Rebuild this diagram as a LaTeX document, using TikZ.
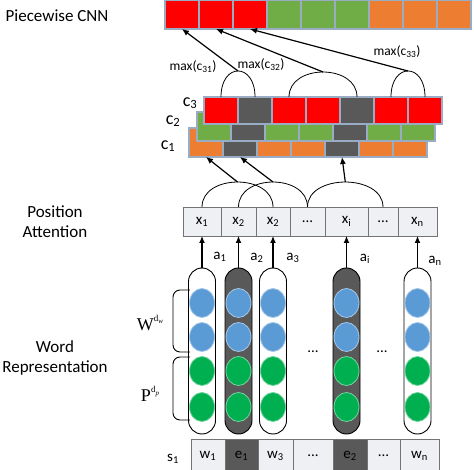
\documentclass[tikz,border=0pt]{standalone}
\usepackage{fontspec}
\setmainfont{Carlito}
\newfontfamily\tms{Liberation Serif}
\usetikzlibrary{arrows.meta,shapes.geometric}
\definecolor{cred}{HTML}{FF0000}
\definecolor{cgreen}{HTML}{70AD47}
\definecolor{corange}{HTML}{ED7D31}
\definecolor{cgray}{HTML}{595959}
\definecolor{cblue}{HTML}{5B9BD5}
\definecolor{cball}{HTML}{00B050}
\definecolor{cedge}{HTML}{9AABC4}
\definecolor{xfill}{HTML}{EEF0F3}
\begin{document}
\begin{tikzpicture}[x=1pt,y=-1pt,
  cell/.style={rectangle, draw=cedge, line width=1.3pt, minimum height=29pt, inner sep=0pt, outer sep=0pt, anchor=north west},
  xcell/.style={draw=black!55, line width=0.7pt, fill=xfill, minimum height=29pt, inner sep=0pt, outer sep=0pt, font=\fontsize{15}{15}\selectfont},
  capsule/.style={draw=black, line width=0.9pt, minimum width=27pt, minimum height=166pt, rounded corners=13.5pt, inner sep=0pt, outer sep=0pt},
  ball/.style={ellipse, minimum width=25pt, minimum height=29pt, inner sep=0pt},
  bball/.style={ball, fill=cblue, draw=cblue!55!white, line width=0.8pt},
  gball/.style={ball, fill=cball, draw=cball!55!white, line width=0.8pt},
  arc/.style={draw=black, line width=0.8pt},
  arr/.style={draw=black, line width=1.2pt, -{Latex[length=7pt,width=6pt]}},
  lbl/.style={font=\fontsize{17}{20}\selectfont, align=center},
  sm/.style={font=\fontsize{13.5}{14}\selectfont},
  al/.style={font=\fontsize{15}{15}\selectfont},
  cl/.style={font=\fontsize{18}{18}\selectfont}
]
\useasboundingbox (0,0) rectangle (474,470);

% left labels
\node[lbl] (lpcnn) at (57,16) {Piecewise CNN};
\node[lbl] (lpa) at (55,222) {Position\\Attention};
\node[lbl] (lwr) at (55,358) {Word\\Representation};

% top bar
\foreach \i/\cc in {1/cred,2/cred,3/cred,4/cgreen,5/cgreen,6/cgreen,7/corange,8/corange,9/corange}
  \node[cell, fill=\cc, minimum width=34pt] (t\i) at ({165+34*(\i-1)},0) {};

% c1 row
\foreach \i/\cc in {1/corange,2/cgray,3/corange,4/corange,5/cgray,6/corange,7/corange}
  \node[cell, fill=\cc, minimum width=34pt] (ca\i) at ({189+34*(\i-1)},128) {};
% c2 row
\foreach \i/\cc in {1/cgreen,2/cgray,3/cgreen,4/cgreen,5/cgray,6/cgreen,7/cgreen}
  \node[cell, fill=\cc, minimum width=34pt] (cb\i) at ({197+34*(\i-1)},112) {};
% c3 row
\foreach \i/\cc in {1/cred,2/cgray,3/cred,4/cred,5/cgray,6/cred,7/cred}
  \node[cell, fill=\cc, minimum width=34pt, minimum height=27pt] (cc\i) at ({204+34*(\i-1)},97) {};

\node[cl] (lc3) at (190,103) {c\textsubscript{3}};
\node[cl] (lc2) at (173,121) {c\textsubscript{2}};
\node[cl] (lc1) at (168,146) {c\textsubscript{1}};

% arcs over c3
\draw[arc] (cc1.north) .. controls +(0,-34.7) and +(0,-34.7) .. (cc2.north);
\draw[arc] (cc3.north) .. controls +(0,-33.3) and +(0,-33.3) .. (cc5.north);
\draw[arc] (cc6.north) .. controls +(0,-34.7) and +(0,-34.7) .. (cc7.north);
\coordinate (n1) at (238,71);
\coordinate (n2) at (323,72);
\coordinate (n3) at (408,71);
\draw[arr] (n1) -- (t1.south);
\draw[arr] (n2) -- (t2.south);
\draw[arr] (n3) -- (t3.south);
\node[sm] (m1) at (193,67) {max(c\textsubscript{31})};
\node[sm] (m2) at (261,65) {max(c\textsubscript{32})};
\node[sm] (m3) at (397,52) {max(c\textsubscript{33})};

% x row
\node[xcell, minimum width=38pt] (X1) at (202,221.5) {x\textsubscript{1}};
\node[xcell, minimum width=35pt] (X2) at (238.5,221.5) {x\textsubscript{2}};
\node[xcell, minimum width=34pt] (X3) at (273,221.5) {x\textsubscript{2}};
\node[xcell, minimum width=35pt] (X4) at (307.5,221.5) {...};
\node[xcell, minimum width=43pt] (X5) at (346.5,221.5) {x\textsubscript{i}};
\node[xcell, minimum width=30pt] (X6) at (383,221.5) {...};
\node[xcell, minimum width=39pt] (X7) at (417.5,221.5) {x\textsubscript{n}};

\draw[arc] (X1.north) .. controls +(0,-33.3) and +(0,-33.3) .. (X3.north);
\draw[arc] (X2.north) .. controls +(0,-33.3) and +(0,-33.3) .. (X4.north);
\draw[arc] (X4.north) .. controls +(0,-33.3) and +(0,-33.3) .. (X6.north);
\coordinate (p1) at (237.5,182);
\coordinate (p2) at (273,182);
\coordinate (p3) at (345.3,182);
\draw[arr] (p1) -- (ca1.south);
\draw[arr] (p2) -- (ca2.south);
\draw[arr] (p3) -- (ca5.south);

% capsules
\foreach \k/\x/\f in {1/202/white,2/238.5/cgray,3/273/white,4/346.5/cgray,5/417.5/white}{
  \node[capsule, fill=\f] (k\k) at (\x,351) {};
  \node[bball] (b\k a) at (\x,303) {};
  \node[bball] (b\k b) at (\x,337) {};
  \node[gball] (g\k a) at (\x,371) {};
  \node[gball] (g\k b) at (\x,407) {};
}
\draw[arr] (k1.north) -- (X1.south);
\draw[arr] (k2.north) -- (X2.south);
\draw[arr] (k3.north) -- (X3.south);
\draw[arr] (k4.north) -- (X5.south);
\draw[arr] (k5.north) -- (X7.south);
\node[al] (a1) at (220,257) {a\textsubscript{1}};
\node[al] (a2) at (257,258) {a\textsubscript{2}};
\node[al] (a3) at (293,258) {a\textsubscript{3}};
\node[al] (ai) at (365,259) {a\textsubscript{i}};
\node[al] (an) at (435,261) {a\textsubscript{n}};

\node[al] (d1) at (313,352) {...};
\node[al] (d2) at (382,352) {...};

% braces
\draw[line width=0.9pt, rounded corners=7pt] (190,290) -- (173,290) -- (173,352) -- (190,352);
\draw[line width=0.9pt, rounded corners=7pt] (190,357) -- (173,357) -- (173,420) -- (190,420);
\node[font=\fontsize{18}{18}\selectfont\tms] (W) at (150,323) {W\raisebox{1.0ex}{\fontsize{9}{9}\selectfont d\raisebox{-0.5ex}{\fontsize{7}{7}\selectfont\itshape w}}};
\node[font=\fontsize{18}{18}\selectfont\tms] (P) at (150,394) {P\raisebox{1.0ex}{\fontsize{9}{9}\selectfont d\raisebox{-0.5ex}{\fontsize{7}{7}\selectfont\itshape p}}};

% bottom row
\node[xcell, minimum width=34pt, minimum height=34pt] (B1) at (208,456) {w\textsubscript{1}};
\node[xcell, fill=cgray, minimum width=33pt, minimum height=34pt] (B2) at (241.5,456) {e\textsubscript{1}};
\node[xcell, minimum width=35pt, minimum height=34pt] (B3) at (275.5,456) {w\textsubscript{3}};
\node[xcell, minimum width=40pt, minimum height=34pt] (B4) at (313,456) {...};
\node[xcell, fill=cgray, minimum width=34pt, minimum height=34pt] (B5) at (350,456) {e\textsubscript{2}};
\node[xcell, minimum width=33pt, minimum height=34pt] (B6) at (383.5,456) {...};
\node[xcell, minimum width=39pt, minimum height=34pt] (B7) at (419.5,456) {w\textsubscript{n}};
\node[al] (s1) at (173,459) {s\textsubscript{1}};
\end{tikzpicture}
\end{document}
